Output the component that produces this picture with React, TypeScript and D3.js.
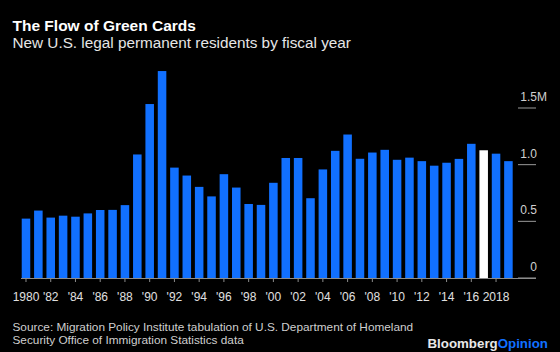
import * as d3 from "d3";

const years = d3.range(1980, 2020);
const residents = [
  0.524, 0.595, 0.533, 0.550, 0.541, 0.570, 0.600, 0.601, 0.643, 1.090,
  1.535, 1.826, 0.974, 0.904, 0.804, 0.720, 0.916, 0.798, 0.653, 0.645,
  0.840, 1.059, 1.059, 0.704, 0.958, 1.122, 1.266, 1.052, 1.107, 1.131,
  1.043, 1.062, 1.031, 0.991, 1.017, 1.051, 1.184, 1.127, 1.097, 1.031,
];
const highlightYear = 2017;
const yTicks = [0, 0.5, 1.0, 1.5];
const yTickLabels = ["0", "0.5", "1.0", "1.5"];
const xTickYears = d3.range(1980, 2020, 2);
const xTickLabels = xTickYears.map((y) =>
  y === 1980 || y === 2018 ? String(y) : "'" + String(y).slice(2)
);

const W = 560;
const H = 352;
const font = "'Liberation Sans', Arial, Helvetica, sans-serif";
const blue = "#1170ff";

export default function App() {
  const x = d3
    .scaleBand<number>()
    .domain(years)
    .range([19.8, 514.6])
    .paddingInner(0.31)
    .paddingOuter(0.155);

  const y = d3.scaleLinear().domain([0, 1.5]).range([278, 108]);

  return (
    <>
      <style>{`body{margin:0;background:#000}`}</style>
      <svg width={W} height={H} style={{ display: "block", background: "#000" }} fontFamily={font}>
        <rect width={W} height={H} fill="#000" />

        <text x={12.5} y={31} fill="#fff" fontSize={15.5} fontWeight="bold">
          The Flow of Green Cards
        </text>
        <text x={12.5} y={47.5} fill="#e6e6e6" fontSize={15.3}>
          New U.S. legal permanent residents by fiscal year
        </text>

        {/* y grid stubs + labels on the right */}
        {yTicks.map((t, i) => (
          <g key={t}>
            <line x1={518} x2={536} y1={y(t)} y2={y(t)} stroke="#9a9a9a" strokeWidth={1} />
            <text x={537} y={y(t) - 7} textAnchor="end" fill="#d0d0d0" fontSize={12}>
              {yTickLabels[i]}
            </text>
            {i === yTicks.length - 1 && (
              <text x={537} y={y(t) - 7} fill="#d0d0d0" fontSize={12}>
                M
              </text>
            )}
          </g>
        ))}

        {years.map((yr, i) => (
          <rect
            key={yr}
            x={x(yr)}
            y={y(residents[i])}
            width={x.bandwidth()}
            height={y(0) - y(residents[i])}
            fill={yr === highlightYear ? "#ffffff" : blue}
          />
        ))}

        <line x1={21} x2={536} y1={y(0) + 0.5} y2={y(0) + 0.5} stroke="#8c8c8c" strokeWidth={1} />
        {xTickYears.map((yr, i) => {
          const cx = (x(yr) ?? 0) + x.bandwidth() / 2;
          return (
            <g key={yr}>
              <line x1={cx} x2={cx} y1={y(0)} y2={y(0) + 4} stroke="#8c8c8c" strokeWidth={1} />
              <text x={cx} y={301} textAnchor="middle" fill="#e0e0e0" fontSize={12}>
                {xTickLabels[i]}
              </text>
            </g>
          );
        })}

        <text x={12.5} y={330.5} fill="#cfcfcf" fontSize={11.8}>
          Source: Migration Policy Institute tabulation of U.S. Department of Homeland
        </text>
        <text x={12.5} y={343.5} fill="#cfcfcf" fontSize={11.8}>
          Security Office of Immigration Statistics data
        </text>

        <text x={427.5} y={348} fontSize={13.3} fontWeight="bold" fill="#e8e8e8">
          Bloomberg<tspan fill={blue}>Opinion</tspan>
        </text>
      </svg>
    </>
  );
}
